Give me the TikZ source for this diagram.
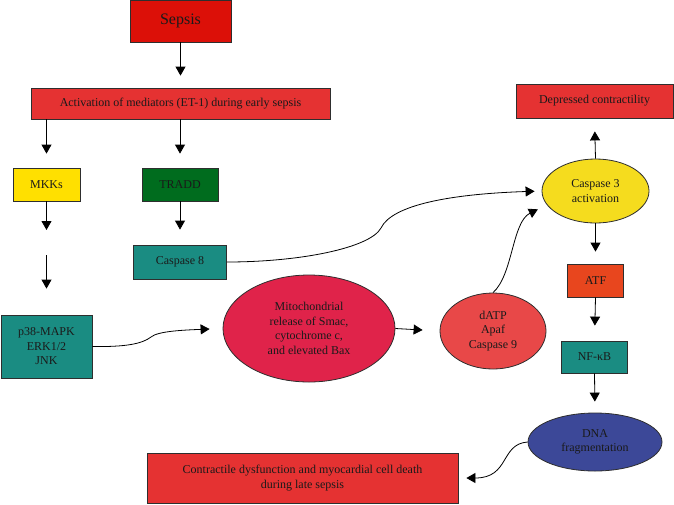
\documentclass[tikz,border=0pt]{standalone}
\usepackage{fontspec}
\setmainfont{Liberation Serif}
\usetikzlibrary{shapes.geometric,arrows.meta}
\definecolor{bordc}{HTML}{2E2E2E}
\definecolor{txtc}{HTML}{1A1A1A}
\definecolor{sepsisred}{HTML}{DC1008}
\definecolor{boxred}{HTML}{E53232}
\definecolor{mkkyellow}{HTML}{FFE000}
\definecolor{traddgreen}{HTML}{006C1E}
\definecolor{tealc}{HTML}{1A8C82}
\definecolor{mitored}{HTML}{E0234A}
\definecolor{datpred}{HTML}{E84848}
\definecolor{casyellow}{HTML}{F5DC1E}
\definecolor{atforange}{HTML}{E8461E}
\definecolor{dnablue}{HTML}{3C4898}
\begin{document}
\begin{tikzpicture}[x=1pt,y=-1pt,
  box/.style={draw=bordc, line width=0.8pt, inner sep=0pt, align=center,
    font=\fontsize{12}{14.5}\selectfont, text=txtc},
  ell/.style={ellipse, draw=bordc, line width=0.8pt, inner sep=0pt, align=center,
    font=\fontsize{12}{14.5}\selectfont, text=txtc},
  arr/.style={-{Triangle[length=9pt,width=10pt]}, line width=0.8pt, draw=black}]
\useasboundingbox (0,0) rectangle (674,504);

% nodes
\node[box, fill=sepsisred, minimum width=101pt, minimum height=42pt,
  font=\fontsize{16}{19}\selectfont] (sepsis) at (180.5,21) {Sepsis};
\node[box, fill=boxred, minimum width=299pt, minimum height=31pt] (act) at (180.5,103.5)
  {Activation of mediators (ET-1) during early sepsis};
\node[box, fill=mkkyellow, minimum width=67pt, minimum height=33pt] (mkk) at (46.5,184.5) {MKKs};
\node[box, fill=traddgreen, minimum width=76pt, minimum height=33pt] (tradd) at (180,184.5) {TRADD};
\node[box, fill=tealc, minimum width=93pt, minimum height=34pt] (c8) at (180,262) {Caspase 8};
\node[box, fill=tealc, minimum width=91pt, minimum height=63pt] (p38) at (46.5,346.5)
  {p38-MAPK\\ERK1/2\\JNK};
\node[ell, fill=mitored, minimum width=172pt, minimum height=107pt] (mito) at (309,328.5)
  {Mitochondrial\\release of Smac,\\cytochrome c,\\and elevated Bax};
\node[ell, fill=datpred, minimum width=106pt, minimum height=76pt] (datp) at (493,331)
  {dATP\\Apaf\\Caspase 9};
\node[ell, fill=casyellow, minimum width=107pt, minimum height=64pt] (c3) at (595.5,191)
  {Caspase 3\\activation};
\node[box, fill=boxred, minimum width=157pt, minimum height=34pt] (dep) at (594.5,101)
  {Depressed contractility};
\node[box, fill=atforange, minimum width=56pt, minimum height=33pt] (atf) at (595.5,280.5) {ATF};
\node[box, fill=tealc, minimum width=66pt, minimum height=32pt] (nfkb) at (594.5,357) {NF-κB};
\node[ell, fill=dnablue, minimum width=134pt, minimum height=58pt] (dna) at (595,442)
  {DNA\\fragmentation};
\node[box, fill=boxred, minimum width=311pt, minimum height=50pt] (contr) at (302.5,478)
  {Contractile dysfunction and myocardial cell death\\during late sepsis};

\coordinate (m1) at (46.5,230);
\coordinate (m2) at (46.5,255);

% straight arrows
\draw[arr, shorten >=12pt] (sepsis.south) -- (act.north);
\draw[arr, shorten >=14pt] (act.south -| mkk) -- (mkk.north);
\draw[arr, shorten >=14pt] (act.south -| tradd) -- (tradd.north);
\draw[arr] (mkk.south) -- (m1);
\draw[arr, shorten >=26pt] (m2) -- (p38.north);
\draw[arr, shorten >=15pt] (tradd.south) -- (c8.north);
\draw[arr, shorten >=13pt] (c3.north) -- (dep.south);
\draw[arr, shorten >=12pt] (c3.south) -- (atf.north);
\draw[arr, shorten >=15pt] (atf.south) -- (nfkb.north);
\draw[arr, shorten >=11pt] (nfkb.south) -- (dna.north);
\draw[arr, shorten >=17pt] (mito.east) -- (datp.west);

% curved arrows
\draw[arr, shorten >=13pt] (p38.east) .. controls (125,347) and (142,344) .. (151,337)
  .. controls (158,331) and (185,330) .. (mito.west);
\draw[arr, shorten >=7pt] (c8.east) .. controls (300,262) and (370,248) .. (381,228)
  .. controls (392,205) and (450,194) .. (c3.west);
\draw[arr, shorten >=10pt] (datp.north) .. controls (513,275) and (512,222) .. (c3.196);
\draw[arr, shorten >=8pt] (dna.west) .. controls (500,444) and (510,478) .. (contr.east);
\end{tikzpicture}
\end{document}
